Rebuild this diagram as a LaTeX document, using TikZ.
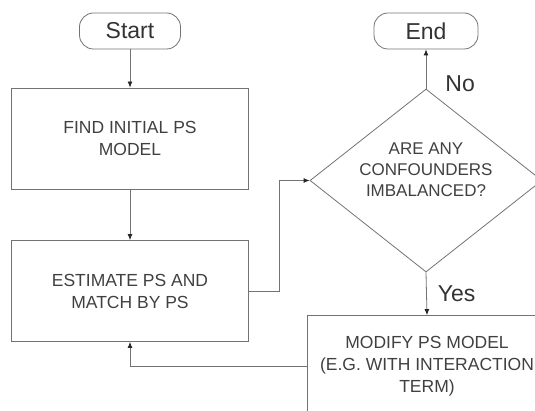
\documentclass[tikz,border=0pt]{standalone}
\usepackage{fontspec}
\setmainfont{Liberation Sans}
\usetikzlibrary{shapes.geometric,arrows.meta}
\begin{document}
\begin{tikzpicture}[x=1pt,y=-1pt,
	line/.style={draw=black!55,line width=0.8pt},
	flow/.style={line,-{Latex[length=6pt,width=5pt,color=black!85]}},
	term/.style={line,rounded corners=14pt,minimum height=36pt,inner sep=0pt,font=\fontsize{23}{26}\selectfont,text=black!80},
	box/.style={line,rectangle,minimum width=237pt,minimum height=101pt,align=center,inner sep=0pt,font=\fontsize{17.5}{22}\selectfont,text=black!75},
	choice/.style={line,diamond,aspect=1.27,minimum width=232pt,minimum height=183pt,inner sep=0pt,align=center,font=\fontsize{17}{21}\selectfont,text=black!75},
	lbl/.style={inner sep=0pt,font=\fontsize{23}{26}\selectfont,text=black!80}]
	\clip (0,0) rectangle (535,411);
	\useasboundingbox (0,0) rectangle (535,411);
	
	\node[term,minimum width=101pt] (start) at (130,31) {Start};
	\node[box] (find) at (130,138.5) {FIND INITIAL PS\\MODEL};
	\node[box] (estimate) at (130,291) {ESTIMATE PS AND\\MATCH BY PS};
	\node[choice,text depth=22pt] (check) at (426,180.5) {ARE ANY\\CONFOUNDERS\\IMBALANCED?};
	\node[term,minimum width=104pt] (finish) at (426,31) {End};
	\node[box,minimum width=240pt] (modify) at (427,366) {MODIFY PS MODEL\\(E.G. WITH INTERACTION\\TERM)};
	
	\draw[flow] (start) -- (find);
	\draw[flow] (find) -- (estimate);
	\draw[flow] (estimate.east) -- ++(30,0) |- (check.west);
	\draw[flow] (check.north) -- node[lbl,pos=0.12,anchor=west,xshift=19pt]{No} (finish.south);
	\draw[flow] (check.south) -- node[lbl,pos=0.5,anchor=west,xshift=11pt]{Yes} (modify.north);
	\draw[flow] (modify.west) -| (estimate.south);
\end{tikzpicture}
\end{document}
